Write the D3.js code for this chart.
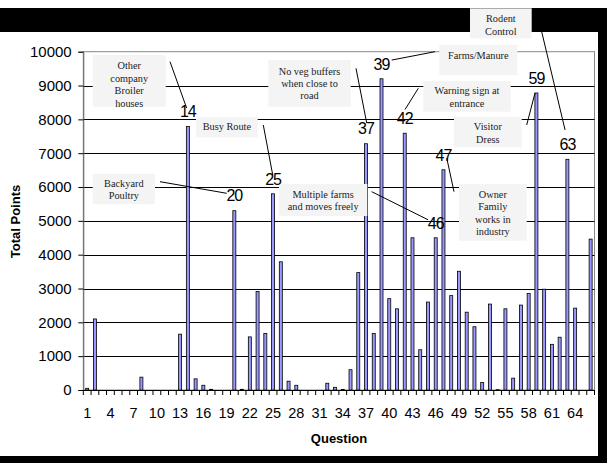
<!DOCTYPE html>
<html>
<head>
<meta charset="utf-8">
<script src="https://cdn.jsdelivr.net/npm/d3@7"></script>
<style>
  body { margin: 0; background: #fff; }
  svg { display: block; font-family: "Liberation Sans", Arial, sans-serif; }
</style>
</head>
<body>
<div id="chart"></div>
<script>
// question numbers on the x axis
const questions = [
  1, 2, 3, 4, 5, 6, 7, 8, 9, 10, 11, 12, 13, 14, 15, 16, 17, 18, 19, 20, 21, 22,
  23, 24, 25, 26, 27, 28, 29, 30, 31, 32, 33, 34, 35, 36, 37, 38, 39, 40, 41, 42, 43, 44,
  45, 46, 47, 48, 49, 50, 51, 52, 53, 54, 55, 56, 57, 58, 59, 60, 61, 62, 63, 64, 65, 66
];
// total points per question
const totalPoints = [
  50, 2100, 0, 0, 0, 0, 0, 380, 0, 0, 0, 0, 1650, 7790, 330, 140, 20, 0, 0, 5300, 20, 1570,
  2910, 1670, 5800, 3790, 260, 140, 0, 0, 0, 200, 80, 15, 600, 3470, 7280, 1670, 9200, 2700, 2400, 7590,
  4500, 1190, 2600, 4500, 6510, 2790, 3510, 2300, 1870, 220, 2540, 10, 2400, 350, 2510, 2850, 8780, 2980,
  1350, 1560, 6820, 2420, 0, 4460
];
const xTickLabels = [1, 4, 7, 10, 13, 16, 19, 22, 25, 28, 31, 34, 37, 40, 43, 46, 49, 52, 55, 58, 61, 64];
const yTicks = [0, 1000, 2000, 3000, 4000, 5000, 6000, 7000, 8000, 9000, 10000];

// callout notes and the question each one points at
const noteTexts = [
  ["Other", "company", "Broiler", "houses"],
  ["Busy Route"],
  ["Backyard", "Poultry"],
  ["No veg buffers", "when close to", "road"],
  ["Multiple farms", "and moves freely"],
  ["Farms/Manure"],
  ["Rodent", "Control"],
  ["Warning sign at", "entrance"],
  ["Visitor", "Dress"],
  ["Owner", "Family", "works in", "industry"]
];
const noteQuestions = [14, 25, 20, 37, 46, 39, 63, 42, 59, 47];
const labelledQuestions = [14, 20, 25, 37, 39, 42, 46, 47, 59, 63];

const W = 607, H = 463;
const plotLeft = 83.3, plotRight = 594.5, plotTop = 51.7, plotBottom = 390;

const svg = d3.select("#chart").append("svg").attr("width", W).attr("height", H);

// black page frame
svg.append("rect").attr("x", 0).attr("y", 8).attr("width", W).attr("height", 24).attr("fill", "#000");
svg.append("rect").attr("x", 598).attr("y", 8).attr("width", 9).attr("height", H - 8).attr("fill", "#000");
svg.append("rect").attr("x", 0).attr("y", 456).attr("width", W).attr("height", 7).attr("fill", "#000");

const x = d3.scaleBand().domain(questions).range([plotLeft, plotRight]);
const y = d3.scaleLinear().domain([0, 10000]).range([plotBottom, plotTop]);

// plot border
svg.append("rect")
  .attr("x", plotLeft).attr("y", plotTop)
  .attr("width", plotRight - plotLeft).attr("height", plotBottom - plotTop)
  .attr("fill", "none").attr("stroke", "#888").attr("stroke-width", 1);

// gridlines
svg.append("g")
  .selectAll("line")
  .data(yTicks.filter((d) => d > 0 && d < 10000))
  .enter()
  .append("line")
  .attr("x1", plotLeft).attr("x2", plotRight)
  .attr("y1", (d) => Math.round(y(d)) + 0.5).attr("y2", (d) => Math.round(y(d)) + 0.5)
  .attr("stroke", "#000").attr("stroke-width", 1);

// y axis
const yAxis = svg.append("g")
  .attr("transform", `translate(${plotLeft},0)`)
  .call(d3.axisLeft(y).tickValues(yTicks).tickSize(5).tickPadding(6.6).tickFormat(d3.format("d")));
yAxis.select(".domain").attr("stroke", "#666");
yAxis.selectAll(".tick line").attr("stroke", "#000");
yAxis.selectAll("text").attr("font-size", "15px").attr("fill", "#000")
  .attr("font-family", "'Liberation Sans', Arial, sans-serif");

// bars
const barW = 3;
svg.append("g")
  .selectAll("rect")
  .data(questions)
  .enter()
  .append("rect")
  .attr("x", (d) => x(d) + x.bandwidth() / 2 - barW / 2)
  .attr("y", (d, i) => y(totalPoints[i]))
  .attr("width", barW)
  .attr("height", (d, i) => plotBottom - y(totalPoints[i]))
  .attr("fill", "#9999ff")
  .attr("stroke", "#000")
  .attr("stroke-width", 0.8);

// x axis line and category boundary ticks
svg.append("line")
  .attr("x1", plotLeft).attr("x2", plotRight)
  .attr("y1", plotBottom + 0.5).attr("y2", plotBottom + 0.5)
  .attr("stroke", "#000");
svg.append("g")
  .selectAll("line")
  .data(questions.concat([null]))
  .enter()
  .append("line")
  .attr("x1", (d, i) => plotLeft + i * x.bandwidth())
  .attr("x2", (d, i) => plotLeft + i * x.bandwidth())
  .attr("y1", plotBottom).attr("y2", plotBottom + 5)
  .attr("stroke", "#000");

const xAxis = svg.append("g")
  .attr("transform", `translate(0,${plotBottom})`)
  .call(d3.axisBottom(x).tickValues(xTickLabels).tickSize(0).tickPadding(17.3));
xAxis.select(".domain").remove();
xAxis.selectAll("text").attr("font-size", "14.5px").attr("fill", "#000")
  .attr("font-family", "'Liberation Sans', Arial, sans-serif");

// axis titles
svg.append("text")
  .attr("transform", "translate(19.5,221.5) rotate(-90)")
  .attr("text-anchor", "middle")
  .attr("font-size", "13px").attr("font-weight", "bold")
  .text("Total Points");
svg.append("text")
  .attr("x", 339).attr("y", 443)
  .attr("text-anchor", "middle")
  .attr("font-size", "13px").attr("font-weight", "bold")
  .text("Question");

// callout layout: box rect, first line centre, connector start, connector end offset from label
const noteLayout = [
  { box: [92.7, 55, 73, 51.7], y0: 65.7, from: [170, 61.7], to: [-1.2, -3.4] },
  { box: [196, 117.3, 61.7, 20], y0: 126.7, from: [263.3, 125], to: [-0.3, -3.7] },
  { box: [92.7, 174, 62.3, 30.3], y0: 183.3, from: [160, 181.7], to: [-7.6, -2.4] },
  { box: [268.3, 60, 82.4, 46.7], y0: 71, from: [356, 68.3], to: [0.7, -5.7] },
  { box: [279, 184, 88.3, 32], y0: 194.3, from: [371.7, 191.7], to: [-7.7, -3] },
  { box: [439.3, 45, 78, 30], y0: 55, from: [435, 51.7], to: [10.2, -3.7] },
  { box: [470, 8.3, 61.7, 30], y0: 18.5, from: [541.7, 31.7], to: [-2.3, -14.3] },
  { box: [423.3, 81, 87.4, 30.7], y0: 90.7, from: [418.3, 88.3], to: [0.3, -8.7] },
  { box: [454, 116.7, 67.7, 30.6], y0: 126.7, from: [526.7, 125], to: [-1.4, 15] },
  { box: [459, 184, 67.7, 56.7], y0: 194.3, from: [454, 191.7], to: [3.3, 3.3] }
];
const lineStep = 12.4;

const labelPos = (q) => {
  const i = questions.indexOf(q);
  return [x(q) + x.bandwidth() / 2, y(totalPoints[i]) - 15];
};

const notes = svg.append("g");
noteTexts.forEach((lines, k) => {
  const L = noteLayout[k];
  const g = notes.append("g");
  g.append("rect")
    .attr("x", L.box[0]).attr("y", L.box[1])
    .attr("width", L.box[2]).attr("height", L.box[3])
    .attr("fill", "#f4f4f4");
  lines.forEach((t, j) => {
    g.append("text")
      .attr("x", L.box[0] + L.box[2] / 2)
      .attr("y", L.y0 + j * lineStep)
      .attr("dy", "0.35em")
      .attr("text-anchor", "middle")
      .attr("font-family", "'Liberation Serif', 'Times New Roman', serif")
      .attr("font-size", "10.3px")
      .attr("fill", "#222")
      .text(t);
  });
});

// question number labels above the bars
svg.append("g")
  .selectAll("text")
  .data(labelledQuestions)
  .enter()
  .append("text")
  .attr("x", (d) => labelPos(d)[0])
  .attr("y", (d) => labelPos(d)[1])
  .attr("dy", "0.36em")
  .attr("text-anchor", "middle")
  .attr("font-size", "16px")
  .attr("letter-spacing", "-1px")
  .attr("fill", "#000")
  .text((d) => d);

// connectors
svg.append("g")
  .selectAll("line")
  .data(noteQuestions)
  .enter()
  .append("line")
  .attr("x1", (d, k) => noteLayout[k].from[0])
  .attr("y1", (d, k) => noteLayout[k].from[1])
  .attr("x2", (d, k) => labelPos(d)[0] + noteLayout[k].to[0])
  .attr("y2", (d, k) => labelPos(d)[1] + noteLayout[k].to[1])
  .attr("stroke", "#000")
  .attr("stroke-width", 1);
</script>
</body>
</html>
